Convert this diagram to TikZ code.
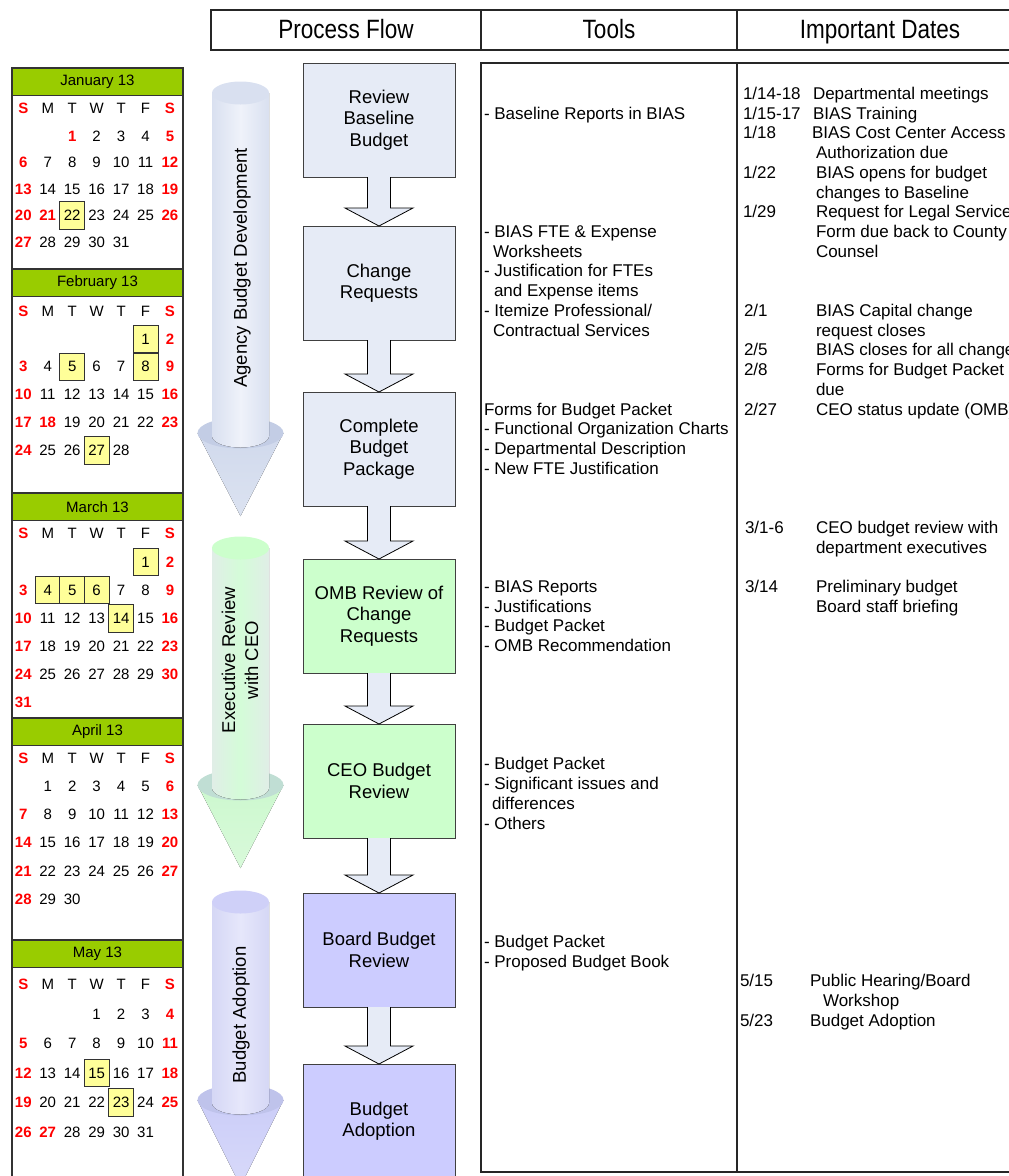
\documentclass[tikz,border=0pt]{standalone}
\usepackage{fontspec}
\setmainfont{Liberation Sans}
\newfontfamily\narrowfont[FakeStretch=0.85]{Liberation Sans}
\usetikzlibrary{calc}

\definecolor{stepBlue}{HTML}{E6EBF6}
\definecolor{stepGreen}{HTML}{CCFFCC}
\definecolor{stepPurple}{HTML}{CCCCFF}
\definecolor{monthGreen}{HTML}{99CC00}
\definecolor{markYellow}{HTML}{FFFF99}
\definecolor{dayRed}{HTML}{FF0000}
% cylinder arrows
\definecolor{cylBlueEdge}{HTML}{D9E0F0}
\definecolor{cylBlueMid}{HTML}{EFF2FA}
\definecolor{cylBlueTop}{HTML}{D9E0F0}
\definecolor{coneBlueBase}{HTML}{C3CDE5}
\definecolor{coneBlue}{HTML}{D0D9EC}
\definecolor{cylGreenEdge}{HTML}{E0EEE7}
\definecolor{cylGreenMid}{HTML}{D4FCD8}
\definecolor{cylGreenTop}{HTML}{CCFFCC}
\definecolor{coneGreenBase}{HTML}{C0DED4}
\definecolor{coneGreen}{HTML}{CCF8CE}
\definecolor{cylPurpleEdge}{HTML}{D5D7F5}
\definecolor{cylPurpleMid}{HTML}{E6E7FB}
\definecolor{cylPurpleTop}{HTML}{CFD0F8}
\definecolor{conePurpleBase}{HTML}{BFC3EB}
\definecolor{conePurple}{HTML}{CBCDF8}

% block arrow between two process boxes
\newcommand{\blockArrow}[2]{%
  \draw[arrowStyle] ($(#1.south)+(-11.5,0)$) -- ($(#2.north)+(-11.5,-18)$)
    -- ($(#2.north)+(-34,-18)$) -- (#2.north) -- ($(#2.north)+(34,-18)$)
    -- ($(#2.north)+(11.5,-18)$) -- ($(#1.south)+(11.5,0)$);
}

% 3d cylinder arrow: colour, top y, bottom y, tip y
\newcommand{\cylArrow}[4]{%
  \fill[top color=cone#1, bottom color=cone#1!75!white]
    (197.5,#3-3) -- (240.5,#4) -- (283.5,#3-3) -- cycle;
  \fill[cone#1Base] (240.5,#3-3) ellipse [x radius=43, y radius=15.5];
  \fill[left color=cyl#1Edge, right color=cyl#1Edge, middle color=cyl#1Mid]
    (212,#2) -- (212,#3) arc [start angle=180, end angle=0, x radius=28.5, y radius=11.5]
    -- (269,#2) -- cycle;
  \fill[cyl#1Top] (240.5,#2) ellipse [x radius=28.5, y radius=11.5];
}

% calendar helpers
\newcommand{\markDays}[2]{\foreach \m in {#2}{\expandafter\xdef\csname cal#1m\m\endcsname{1}}}
\newcommand{\redDays}[2]{\foreach \m in {#2}{\expandafter\xdef\csname cal#1r\m\endcsname{1}}}
% id, title, head top, weekday row, first row, row step, first weekday, days
\newcommand{\calMonth}[8]{%
  \node[monthHead] (#1) at (12,#3) {#2};
  \foreach \w [count=\c from 0] in {S,M,T,W,T,F,S}{
    \pgfmathsetmacro\wx{23.3+24.45*\c}
    \ifnum\c=0 \def\sty{weekendNum}\else\ifnum\c=6 \def\sty{weekendNum}\else\def\sty{dayNum}\fi\fi
    \node[\sty] (#1w\c) at (\wx,#4) {\w};
  }
  \foreach \d in {1,...,#8}{
    \pgfmathtruncatemacro\dpos{#7+\d-1}
    \pgfmathtruncatemacro\dcol{mod(\dpos,7)}
    \pgfmathtruncatemacro\drow{div(\dpos,7)}
    \pgfmathsetmacro\dx{23.3+24.45*\dcol}
    \pgfmathsetmacro\dy{#5+#6*\drow}
    \def\sty{dayNum}\def\msty{plainDay}
    \ifnum\dcol=0 \def\sty{weekendNum}\fi
    \ifnum\dcol=6 \def\sty{weekendNum}\fi
    \ifcsname cal#1r\d\endcsname \def\sty{weekendNum}\fi
    \ifcsname cal#1m\d\endcsname \def\msty{markedDay}\fi
    \node[\sty,\msty] (#1d\d) at (\dx,\dy) {\d};
  }
}

\begin{document}
\begin{tikzpicture}[x=1pt, y=-1pt,
    every node/.style={inner sep=0pt, outer sep=0pt},
    line join=miter
  ]
  \useasboundingbox (0,0) rectangle (1009,1176);

  %--- styles ---
  \tikzset{
    headStyle/.style ={anchor=base, font=\narrowfont\fontsize{26.5}{30}\selectfont},
    tableLine/.style ={draw=black!85, line width=1.3pt},
    stepStyle/.style ={draw=black!75, line width=0.8pt, minimum width=152pt,
    minimum height=114pt, align=center, anchor=north,
    font=\fontsize{18.5}{21.5}\selectfont},
    arrowStyle/.style={draw=black, fill=stepBlue, line width=0.8pt},
    sideText/.style  ={rotate=90, align=center, font=\fontsize{18.5}{23}\selectfont},
    toolText/.style  ={anchor=base west, font=\fontsize{17}{20}\selectfont},
    dateText/.style  ={anchor=base west, font=\fontsize{17}{20}\selectfont},
    calFrame/.style  ={draw=black!80, line width=1.3pt},
    monthHead/.style ={draw=black!80, fill=monthGreen, line width=1.2pt,
    anchor=north west, minimum width=171pt, minimum height=27.5pt,
    font=\fontsize{15}{18}\selectfont},
    dayNum/.style    ={font=\fontsize{15}{18}\selectfont},
    weekendNum/.style={font=\fontsize{15}{18}\selectfont\bfseries, text=dayRed},
    plainDay/.style  ={},
    markedDay/.style ={draw=black!80, fill=markYellow, line width=0.9pt,
    minimum width=25pt, minimum height=27.5pt},
  }

  %------------------------------------------------------------------------------
  % 1) Calendars (left column)
  %------------------------------------------------------------------------------
  \draw[calFrame] (12,68) rectangle (183,1190);

  \redDays{jan}{1,21}   \markDays{jan}{22}
  \redDays{feb}{18}     \markDays{feb}{1,5,8,27}
  \markDays{mar}{1,4,5,6,14}
  \redDays{may}{27}     \markDays{may}{15,23}

  \calMonth{jan}{January 13}{68}{108}{136}{26.5}{2}{31}
  \calMonth{feb}{February 13}{269}{311}{339}{27.8}{5}{28}
  \calMonth{mar}{March 13}{493}{533}{562}{28.1}{5}{31}
  \calMonth{apr}{April 13}{718}{758}{786}{28.3}{1}{30}
  \calMonth{may}{May 13}{940}{984}{1014}{29.5}{3}{31}

  %------------------------------------------------------------------------------
  % 2) Phase arrows
  %------------------------------------------------------------------------------
  \cylArrow{Blue}{93}{436}{516}
  \cylArrow{Green}{548}{788}{868}
  \cylArrow{Purple}{902}{1103}{1186}

  \node[sideText] (phaseAgency) at (242,268) {Agency Budget Development};
  \node[sideText] (phaseExec) at (240,660) {Executive Review\\with CEO};
  \node[sideText] (phaseBoard) at (241,1015) {Budget Adoption};

  %------------------------------------------------------------------------------
  % 3) Table header and frames
  %------------------------------------------------------------------------------
  \draw[tableLine] (211,10) rectangle (1030,50);
  \draw[tableLine] (481,10) -- (481,50) (737,10) -- (737,50);
  \node[headStyle] (hdrFlow) at (346,38) {Process Flow};
  \node[headStyle] (hdrTools) at (609,38) {Tools};
  \node[headStyle] (hdrDates) at (880,38) {Important Dates};

  \draw[tableLine] (481,63) rectangle (1030,1172);
  \draw[tableLine] (737,63) -- (737,1172);

  %------------------------------------------------------------------------------
  % 4) Process flow
  %------------------------------------------------------------------------------
  \node[stepStyle, fill=stepBlue] (review) at (379,63) {Review\\Baseline\\Budget};
  \node[stepStyle, fill=stepBlue] (change) at (379,226) {Change\\Requests};
  \node[stepStyle, fill=stepBlue] (package) at (379,392) {Complete\\Budget\\Package};
  \node[stepStyle, fill=stepGreen] (omb) at (379,559) {OMB Review of\\Change\\Requests};
  \node[stepStyle, fill=stepGreen] (ceo) at (379,724) {CEO Budget\\Review};
  \node[stepStyle, fill=stepPurple] (board) at (379,893) {Board Budget\\Review};
  \node[stepStyle, fill=stepPurple] (adopt) at (379,1064) {Budget\\Adoption};

  \blockArrow{review}{change}
  \blockArrow{change}{package}
  \blockArrow{package}{omb}
  \blockArrow{omb}{ceo}
  \blockArrow{ceo}{board}
  \blockArrow{board}{adopt}

  %------------------------------------------------------------------------------
  % 5) Tools (line index / x / text)
  %------------------------------------------------------------------------------
  \foreach \k/\tx/\txt [count=\i] in {
      1/484/{- Baseline Reports in BIAS},
      7/484/{- BIAS FTE \& Expense},
      8/493/{Worksheets},
      9/484/{- Justification for FTEs},
      10/494/{and Expense items},
      11/484/{- Itemize Professional/},
      12/493/{Contractual Services},
      16/484/{Forms for Budget Packet},
      17/484/{- Functional Organization Charts},
      18/484/{- Departmental Description},
      19/484/{- New FTE Justification},
      25/484/{- BIAS Reports},
      26/484/{- Justifications},
      27/484/{- Budget Packet},
      28/484/{- OMB Recommendation},
      34/484/{- Budget Packet},
      35/484/{- Significant issues and},
      36/492/{differences},
      37/484/{- Others},
      43/484/{- Budget Packet},
      44/484/{- Proposed Budget Book}}
    \node[toolText] (tool\i) at (\tx,99.5+19.72*\k) {\txt};

  %------------------------------------------------------------------------------
  % 6) Important dates
  %------------------------------------------------------------------------------
  \foreach \k/\tx/\txt [count=\i] in {
      0/743/{1/14-18}, 1/743/{1/15-17}, 2/743/{1/18}, 4/743/{1/22},
      6/743/{1/29}, 11/744/{2/1}, 13/744/{2/5}, 14/744/{2/8},
      16/744/{2/27}, 22/745/{3/1-6}, 25/745/{3/14}, 45/740/{5/15},
      47/740/{5/23}}
    \node[dateText] (date\i) at (\tx,99.5+19.72*\k) {\txt};

  \foreach \k/\tx/\txt [count=\i] in {
      0/813/{Departmental meetings},
      1/813/{BIAS Training},
      2/812/{BIAS Cost Center Access},
      3/816/{Authorization due},
      4/816/{BIAS opens for budget},
      5/816/{changes to Baseline},
      6/816/{Request for Legal Service},
      7/816/{Form due back to County},
      8/816/{Counsel},
      11/816/{BIAS Capital change},
      12/816/{request closes},
      13/816/{BIAS closes for all change},
      14/816/{Forms for Budget Packet},
      15/816/{due},
      16/816/{CEO status update (OMB)},
      22/816/{CEO budget review with},
      23/816/{department executives},
      25/816/{Preliminary budget},
      26/816/{Board staff briefing},
      45/810/{Public Hearing/Board},
      46/823/{Workshop},
      47/810/{Budget Adoption}}
    \node[dateText] (event\i) at (\tx,99.5+19.72*\k) {\txt};

\end{tikzpicture}
\end{document}
